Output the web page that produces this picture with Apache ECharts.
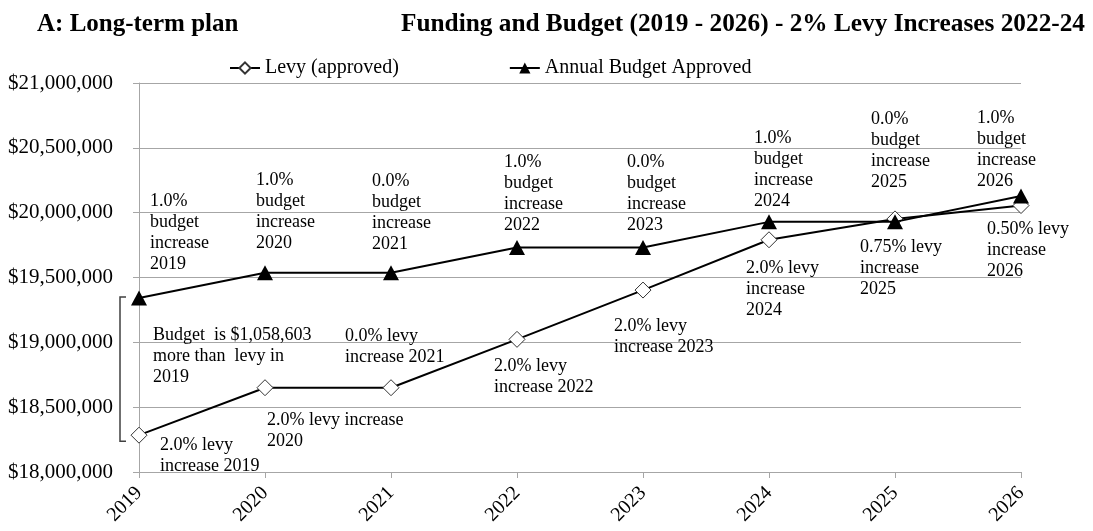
<!DOCTYPE html>
<html>
<head>
<meta charset="utf-8">
<script src="https://cdn.jsdelivr.net/npm/echarts@6/dist/echarts.min.js"></script>
<style>
html,body{margin:0;padding:0;background:#fff;}
#chart{width:1093px;height:531px;}
</style>
</head>
<body>
<div id="chart"></div>
<script>
// ---- data ----
const years = ['2019','2020','2021','2022','2023','2024','2025','2026'];
const levy = [18284000, 18650000, 18650000, 19023000, 19403000, 19791000, 19952000, 20055000];
const budget = [19342603, 19536000, 19536000, 19731000, 19731000, 19929000, 19929000, 20128000];
const yTicks = { min: 18000000, max: 21000000, step: 500000 };
const budgetNotes = [
  '1.0%\nbudget\nincrease\n2019',
  '1.0%\nbudget\nincrease\n2020',
  '0.0%\nbudget\nincrease\n2021',
  '1.0%\nbudget\nincrease\n2022',
  '0.0%\nbudget\nincrease\n2023',
  '1.0%\nbudget\nincrease\n2024',
  '0.0%\nbudget\nincrease\n2025',
  '1.0%\nbudget\nincrease\n2026'
];
const levyNotes = [
  '2.0% levy\nincrease 2019',
  '2.0% levy increase\n2020',
  '0.0% levy\nincrease 2021',
  '2.0% levy\nincrease 2022',
  '2.0% levy\nincrease 2023',
  '2.0% levy\nincrease\n2024',
  '0.75% levy\nincrease\n2025',
  '0.50% levy\nincrease\n2026'
];
const gapNote = 'Budget  is $1,058,603\nmore than  levy in\n2019';
const titleLeft = 'A: Long-term plan';
const titleRight = 'Funding and Budget (2019 - 2026) - 2% Levy Increases 2022-24';

// ---- label placement (style only: offsets from each point) ----
const budgetOffsets = [[11,-107],[-9,-103],[-19,-102],[-13,-96],[-16,-96],[-15,-94],[-24,-113],[-44,-88]];
const levyOffsets = [[21,0],[2,22],[-46,-62],[-23,16],[-29,26],[-23,18],[-35,18],[-34,13]];
const gapOffset = [14,-110];

const FONT = '"Liberation Serif", "Times New Roman", serif';
const chart = echarts.init(document.getElementById('chart'));

function money(v){ return '$' + v.toLocaleString('en-US'); }

chart.setOption({
  animation: false,
  backgroundColor: '#fff',
  title: [
    { text: titleLeft, left: 32, top: 7, textStyle: { fontFamily: FONT, fontSize: 25, fontWeight: 'bold', color: '#000' } },
    { text: titleRight, right: 3, top: 7, textStyle: { fontFamily: FONT, fontSize: 25.3, fontWeight: 'bold', color: '#000' } }
  ],
  legend: {
    data: ['Levy (approved)', 'Annual Budget Approved'],
    left: 224, top: 53,
    itemWidth: 30, itemHeight: 14, itemGap: 110,
    textStyle: { fontFamily: FONT, fontSize: 20, color: '#000' }
  },
  grid: { left: 139, right: 72, top: 83, bottom: 59, containLabel: false },
  xAxis: {
    type: 'category', data: years, boundaryGap: false,
    axisLine: { lineStyle: { color: '#a6a6a6', width: 1 } },
    axisTick: { show: true, length: 6, lineStyle: { color: '#a6a6a6' } },
    axisLabel: { rotate: 45, margin: 18, fontFamily: FONT, fontSize: 20, color: '#000' },
    splitLine: { show: false }
  },
  yAxis: {
    type: 'value', min: yTicks.min, max: yTicks.max, interval: yTicks.step,
    axisLine: { show: true, lineStyle: { color: '#a6a6a6', width: 1 } },
    axisTick: { show: true, length: 6, lineStyle: { color: '#a6a6a6' } },
    axisLabel: { margin: 26, fontFamily: FONT, fontSize: 21, color: '#000', formatter: money },
    splitLine: { show: true, lineStyle: { color: '#a6a6a6', width: 1 } }
  },
  series: [
    {
      name: 'Levy (approved)', type: 'line', data: levy,
      symbol: 'diamond', symbolSize: [16, 16], showAllSymbol: true,
      lineStyle: { color: '#000', width: 2 },
      itemStyle: { color: '#fff', borderColor: '#333', borderWidth: 1 },
      z: 3
    },
    {
      name: 'Annual Budget Approved', type: 'line', data: budget,
      symbol: 'triangle', symbolSize: [16, 15], showAllSymbol: true,
      lineStyle: { color: '#000', width: 2 },
      itemStyle: { color: '#000', borderColor: '#000', borderWidth: 0 },
      z: 4
    }
  ]
});

// ---- annotations positioned through the chart's own scales ----
const graphics = [];
function note(text, pt, off){
  graphics.push({
    type: 'text', x: pt[0] + off[0], y: pt[1] + off[1], z: 10,
    style: { text: text, fontFamily: FONT, fontSize: 18, lineHeight: 21, fill: '#000', align: 'left', verticalAlign: 'top' }
  });
}
years.forEach(function(y, i){
  note(budgetNotes[i], chart.convertToPixel({ seriesIndex: 1 }, [i, budget[i]]), budgetOffsets[i]);
  note(levyNotes[i], chart.convertToPixel({ seriesIndex: 0 }, [i, levy[i]]), levyOffsets[i]);
});
const pB = chart.convertToPixel({ seriesIndex: 1 }, [0, budget[0]]);
const pL = chart.convertToPixel({ seriesIndex: 0 }, [0, levy[0]]);
note(gapNote, pL, gapOffset);
const bx = pB[0] - 19;
graphics.push({
  type: 'polyline', z: 10,
  shape: { points: [[bx + 6, pB[1] - 1], [bx, pB[1] - 1], [bx, pL[1] + 6], [bx + 6, pL[1] + 6]] },
  style: { stroke: '#404040', lineWidth: 1.5, fill: null }
});
chart.setOption({ graphic: graphics });
</script>
</body>
</html>
